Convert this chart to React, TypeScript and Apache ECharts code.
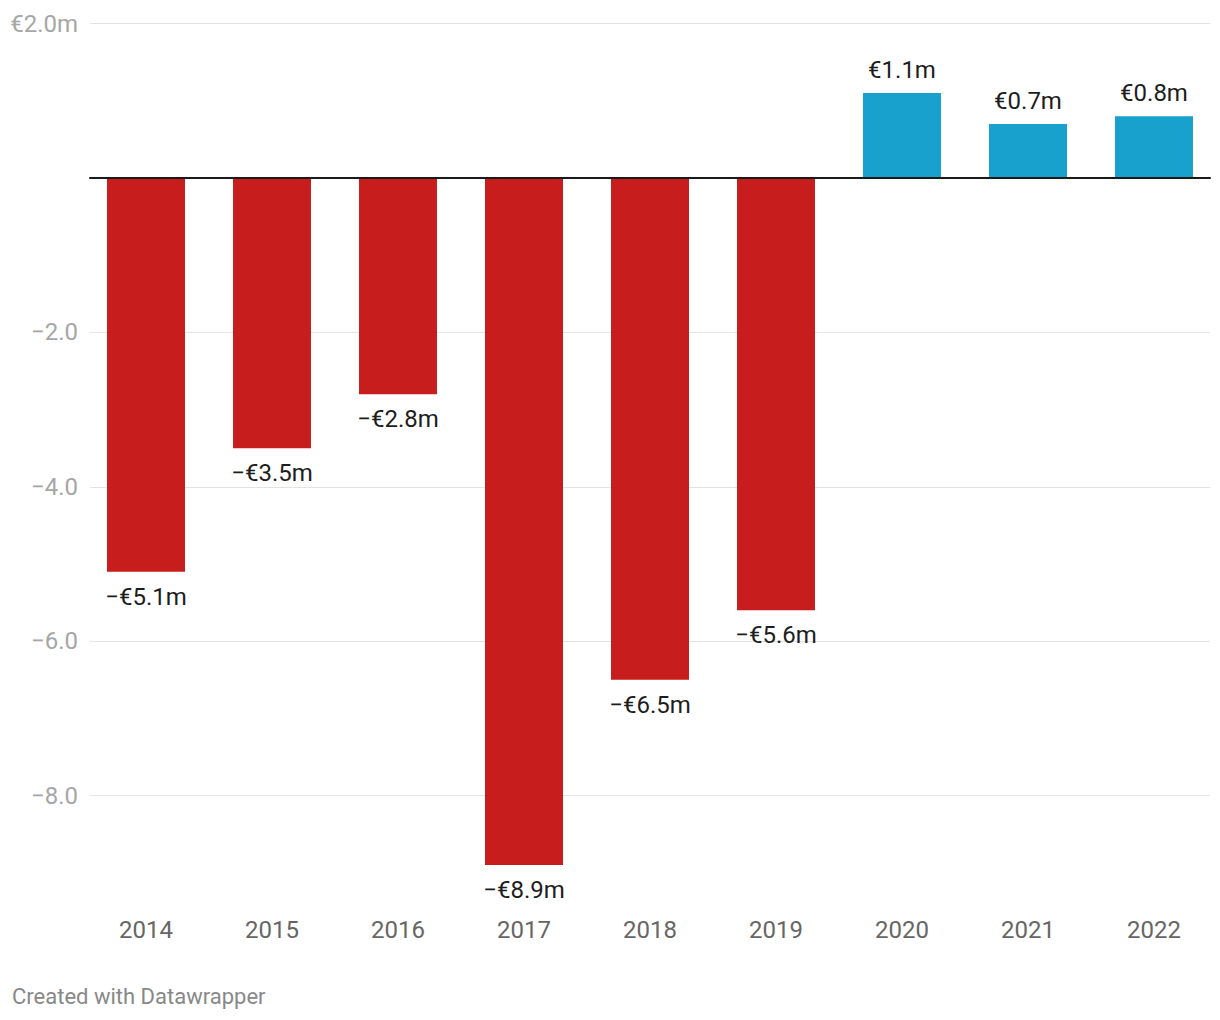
import React, { useEffect, useRef } from "react";
import * as echarts from "echarts";

const years = ["2014", "2015", "2016", "2017", "2018", "2019", "2020", "2021", "2022"];
const values = [-5.1, -3.5, -2.8, -8.9, -6.5, -5.6, 1.1, 0.7, 0.8];
const yTicks = [-8, -6, -4, -2, 0, 2];

const RED = "#c71e1d";
const BLUE = "#18a1cd";

function fmtLabel(v: number): string {
  const s = "€" + Math.abs(v).toFixed(1) + "m";
  return v < 0 ? "\u2212" + s : s;
}

function fmtAxis(v: number): string {
  if (v === 0) return "";
  if (v === 2) return "€2.0m";
  return (v < 0 ? "\u2212" : "") + Math.abs(v).toFixed(1);
}

export default function App() {
  const ref = useRef<HTMLDivElement>(null);
  useEffect(() => {
    if (!ref.current) return;
    const chart = echarts.init(ref.current, undefined, { renderer: "svg" });
    const top = 23.6;
    const unit = 77.2;
    const zeroY = top + 2 * unit;
    const barMin = -9.2;
    const barBottom = zeroY - barMin * unit;
    const labelBottom = zeroY + 8 * unit;
    chart.setOption({
      animation: false,
      backgroundColor: "#ffffff",
      textStyle: { fontFamily: "Roboto" },
      grid: [
        { left: 83, right: 3, top: top, height: barBottom - top },
        { left: 90, right: 10, top: top, height: labelBottom - top },
      ],
      xAxis: [
        {
          type: "category",
          gridIndex: 0,
          data: years,
          axisLine: { show: false, onZero: false },
          axisTick: { show: false },
          axisLabel: { margin: 30, fontSize: 24, color: "#666666", fontFamily: "Roboto" },
          splitLine: { show: false },
        },
        {
          type: "category",
          gridIndex: 1,
          data: [""],
          z: 10,
          axisLine: { show: true, onZero: true, lineStyle: { color: "#1a1a1a", width: 2 } },
          axisTick: { show: false },
          axisLabel: { show: false },
        },
      ],
      yAxis: [
        {
          type: "value",
          gridIndex: 0,
          min: barMin,
          max: 2,
          axisLine: { show: false },
          axisTick: { show: false },
          axisLabel: { show: false },
          splitLine: { show: false },
        },
        {
          type: "value",
          gridIndex: 1,
          min: yTicks[0],
          max: yTicks[yTicks.length - 1],
          interval: 2,
          axisLine: { show: false },
          axisTick: { show: false },
          axisLabel: {
            formatter: fmtAxis,
            fontSize: 24,
            color: "#a6a6a6",
            margin: 12,
            fontFamily: "Roboto",
          },
          splitLine: { show: true, lineStyle: { color: "#e3e3e3", width: 1 } },
        },
      ],
      series: [
        {
          type: "bar",
          xAxisIndex: 0,
          yAxisIndex: 0,
          barWidth: 78,
          z: 2,
          data: values.map((v) => ({
            value: v,
            itemStyle: { color: v < 0 ? RED : BLUE },
            label: {
              show: true,
              position: v < 0 ? "bottom" : "top",
              distance: v < 0 ? 13 : 11,
              formatter: () => fmtLabel(v),
              fontSize: 24,
              color: "#1d1d1d",
              fontFamily: "Roboto",
            },
          })),
        },
      ],
      graphic: [
        {
          type: "text",
          left: 12,
          top: 985,
          style: {
            text: "Created with Datawrapper",
            fontSize: 22,
            fill: "#888888",
            fontFamily: "Roboto",
          },
        },
      ],
    });
    return () => chart.dispose();
  }, []);
  return (
    <div
      ref={ref}
      style={{ position: "absolute", left: 0, top: 0, width: 1220, height: 1020 }}
    />
  );
}
